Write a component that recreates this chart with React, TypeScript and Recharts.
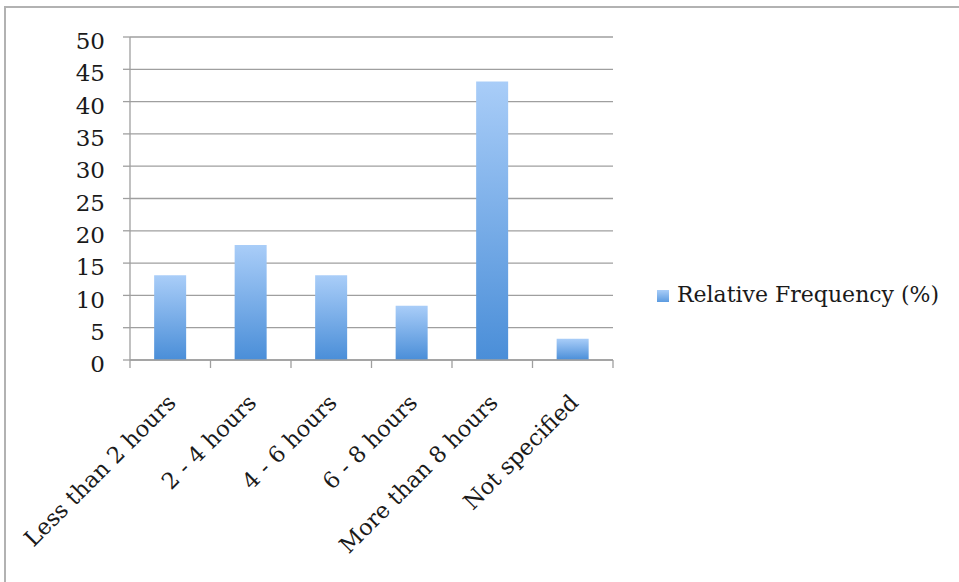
import React from "react"
import { Bar, BarChart, CartesianGrid, Legend, XAxis, YAxis } from "recharts"

// hours per day, share of respondents
const categories = ["Less than 2 hours", "2 - 4 hours", "4 - 6 hours", "6 - 8 hours", "More than 8 hours", "Not specified"]
const frequency = [13.1, 17.8, 13.1, 8.4, 43.1, 3.3]
const yTicks = [0, 5, 10, 15, 20, 25, 30, 35, 40, 45, 50]
const seriesName = "Relative Frequency (%)"

const data = categories.map((label, i) => ({ label, value: frequency[i] }))

const WIDTH = 959
const HEIGHT = 582
const PLOT_LEFT = 130
const PLOT_RIGHT = 613
const PLOT_TOP = 37
const PLOT_BOTTOM = 360

const FONT = "'DejaVu Serif', serif"
const GRID = "#9f9f9f"
const INK = "#1a1a1a"

const band = (PLOT_RIGHT - PLOT_LEFT) / categories.length

// category label rotated 45°, plus Excel-style ticks on the band edges
function CategoryTick(props: any) {
  const { x, y, payload, index } = props
  const left = x - band / 2
  const right = x + band / 2
  return (
    <g>
      <line x1={left} y1={y} x2={left} y2={y + 8} stroke={GRID} strokeWidth={1.3} />
      {index === categories.length - 1 && (
        <line x1={right} y1={y} x2={right} y2={y + 8} stroke={GRID} strokeWidth={1.3} />
      )}
      <text
        transform={`translate(${x + 7}, ${y + 44}) rotate(-45)`}
        textAnchor="end"
        fontFamily={FONT}
        fontSize={22.5}
        fill={INK}
      >
        {payload.value}
      </text>
    </g>
  )
}

function LegendBox() {
  return (
    <div style={{ display: "flex", alignItems: "center", fontFamily: FONT, fontSize: 22, color: INK, whiteSpace: "nowrap" }}>
      <svg width={12} height={12} style={{ marginRight: 8, marginTop: 2 }}>
        <rect width={12} height={12} fill="url(#legendGrad)" />
        <defs>
          <linearGradient id="legendGrad" x1="0" y1="0" x2="0" y2="1">
            <stop offset="0%" stopColor="#a9cdf8" />
            <stop offset="100%" stopColor="#5c9be0" />
          </linearGradient>
        </defs>
      </svg>
      <span>{seriesName}</span>
    </div>
  )
}

export default function App() {
  return (
    <div style={{ position: "absolute", left: 0, top: 0, width: WIDTH, height: HEIGHT, overflow: "hidden", background: "#fff" }}>
      <div
        style={{
          position: "absolute",
          left: 4,
          top: 6,
          width: WIDTH + 40,
          height: HEIGHT + 40,
          borderTop: "2px solid #b2b2b2",
          borderLeft: "2px solid #b2b2b2",
        }}
      />
      <div style={{ position: "absolute", left: 0, top: 0 }}>
        <BarChart
          width={WIDTH}
          height={HEIGHT}
          data={data}
          margin={{ top: PLOT_TOP, right: WIDTH - PLOT_RIGHT, bottom: 0, left: 0 }}
          barCategoryGap="30%"
        >
          <defs>
            <linearGradient id="barGrad" x1="0" y1="0" x2="0" y2="1">
              <stop offset="0%" stopColor="#a9cdf8" />
              <stop offset="100%" stopColor="#4a8ed8" />
            </linearGradient>
          </defs>
          <CartesianGrid vertical={false} stroke={GRID} strokeWidth={1.3} />
          <XAxis
            dataKey="label"
            height={HEIGHT - PLOT_BOTTOM}
            interval={0}
            tickLine={false}
            tickSize={0}
            tickMargin={0}
            axisLine={{ stroke: GRID, strokeWidth: 1.3 }}
            tick={<CategoryTick />}
          />
          <YAxis
            width={PLOT_LEFT}
            domain={[0, 50]}
            ticks={yTicks}
            interval={0}
            tickSize={7}
            tickMargin={18}
            tickLine={{ stroke: GRID, strokeWidth: 1.3 }}
            axisLine={{ stroke: GRID, strokeWidth: 1.3 }}
            tick={{ fill: INK, fontFamily: FONT, fontSize: 23, dy: 4 }}
          />
          <Legend
            layout="vertical"
            align="center"
            verticalAlign="middle"
            content={<LegendBox />}
            wrapperStyle={{ left: 657, top: 282, width: "auto" }}
          />
          <Bar dataKey="value" name={seriesName} fill="url(#barGrad)" isAnimationActive={false} />
        </BarChart>
      </div>
    </div>
  )
}
